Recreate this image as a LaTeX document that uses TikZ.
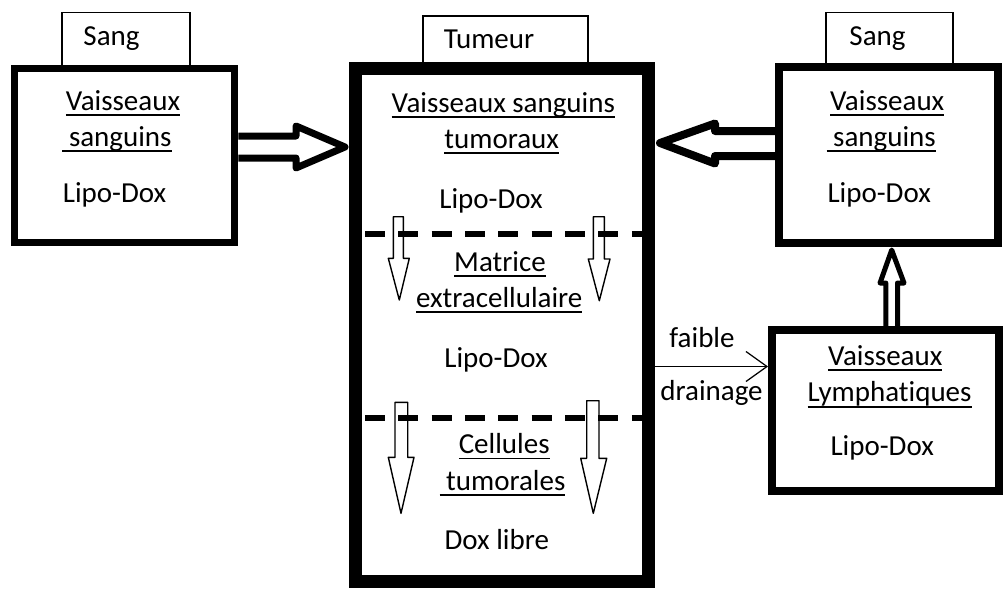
\documentclass[tikz,border=0pt]{standalone}
\usepackage{fontspec}
\setmainfont{Carlito}[Ligatures=NoCommon]
\usetikzlibrary{arrows.meta}

\newcommand{\souligne}[1]{\sbox0{#1}\rlap{\rule[-3.4pt]{\wd0}{1pt}}\usebox0}

\begin{document}
\begin{tikzpicture}[x=0.02cm,y=-0.02cm]
  \useasboundingbox (0,0) rectangle (1003,589);

  % onglets
  \begin{scope}[every node/.style={draw,line width=0.8pt,inner sep=0pt,minimum height=1.1cm}]
    \node[minimum width=2.56cm] (tabL) at (126,40) {};
    \node[minimum width=3.3cm,minimum height=1cm] (tabC) at (505.5,41) {};
    \node[minimum width=2.54cm] (tabR) at (889.5,40) {};
  \end{scope}

  % small arrows inside the tumour
  \begin{scope}[line width=0.8pt,line join=round]
    \draw (393.3,216.7) -- (393.3,258.3) -- (388.3,258.3) -- (399.3,300) -- (409.3,258.3) -- (403.3,258.3) -- (403.3,216.7) -- cycle;
    \draw (593.3,216.7) -- (593.3,259) -- (588.3,259) -- (599.3,300.7) -- (610,259) -- (604.3,259) -- (604.3,216.7) -- cycle;
    \draw (395,402.3) -- (395,457.3) -- (388.3,457.3) -- (401,513.3) -- (414,457.3) -- (407.7,457.3) -- (407.7,402.3) -- cycle;
    \draw (586.7,400.7) -- (586.7,458.3) -- (580.7,458.3) -- (593.3,513.3) -- (606.7,458.3) -- (599,458.3) -- (599,400.7) -- cycle;
  \end{scope}

  % boxes
  \begin{scope}[every node/.style={draw,inner sep=0pt}]
    \node[line width=0.14cm,minimum width=4.42cm,minimum height=3.5cm] (vsL) at (124.5,155.5) {};
    \node[line width=0.26cm,minimum width=5.88cm,minimum height=10.27cm] (tum) at (502,325.25) {};
    \node[line width=0.16cm,minimum width=4.38cm,minimum height=3.52cm] (vsR) at (888.5,155) {};
    \node[line width=0.16cm,minimum width=4.54cm,minimum height=3.22cm] (lym) at (885.5,410.5) {};
  \end{scope}

  % separations
  \begin{scope}[line width=0.12cm,dash pattern=on 0.4cm off 0.267cm]
    \draw (365,233.5) -- (643,233.5);
    \draw (365,418) -- (643,418);
  \end{scope}

  % big hollow arrows
  \begin{scope}[line join=round]
    \draw[line width=0.14cm] (vsL.east |- 0,136) -- (296,136) -- (296,126) -- (345,147) -- (296,168) -- (296,158) -- (vsL.east |- 0,158);
    \draw[line width=0.16cm] (vsR.west |- 0,131) -- (715,131) -- (715,123.5) -- (660,143) -- (715,163.5) -- (715,156) -- (vsR.west |- 0,156);
    \draw[line width=0.1cm] (lym.north -| 885.8,0) -- (885.8,283) -- (880,283) -- (891.7,250) -- (904,283) -- (897.5,283) -- (lym.north -| 897.5,0);
  \end{scope}

  \draw[line width=0.7pt,-{Straight Barb[length=0.42cm,width=0.6cm]}] (tum.east |- 0,366.5) -- (lym.west |- 0,366.5);

  % texts
  \begin{scope}[every node/.style={anchor=base,inner sep=0pt,font=\fontsize{16.5}{20}\selectfont}]
    \node (sangL) at (111.5,45) {Sang};
    \node (vL1) at (123,110) {\souligne{Vaisseaux}};
    \node (vL2) at (117,146) {\souligne{\ sanguins}};
    \node (ldL) at (114.5,202) {Lipo-Dox};

    \node (tumt) at (489,48) {Tumeur};
    \node (vt1) at (503.3,112) {\souligne{Vaisseaux sanguins}};
    \node (vt2) at (501.7,148) {\souligne{tumoraux}};
    \node (ldT) at (491,208) {Lipo-Dox};
    \node (mx1) at (500,271) {\souligne{Matrice}};
    \node (mx2) at (499.2,307) {\souligne{extracellulaire}};
    \node (ldM) at (496,367) {Lipo-Dox};
    \node (ct1) at (504.2,453.5) {\souligne{Cellules}};
    \node (ct2) at (502.5,490) {\souligne{\ tumorales}};
    \node (dxl) at (496.8,549) {Dox libre};

    \node (sangR) at (877.5,45) {Sang};
    \node (vR1) at (887.2,110) {\souligne{Vaisseaux}};
    \node (vR2) at (881.2,146) {\souligne{\ sanguins}};
    \node (ldR) at (879.2,202) {Lipo-Dox};

    \node (ly1) at (885.3,365) {\souligne{Vaisseaux}};
    \node (ly2) at (889.5,401.7) {\souligne{Lymphatiques}};
    \node (ldY) at (882.2,455) {Lipo-Dox};

    \node (fb) at (702,347) {faible};
    \node (dr) at (711.5,400) {drainage};
  \end{scope}

\end{tikzpicture}
\end{document}
